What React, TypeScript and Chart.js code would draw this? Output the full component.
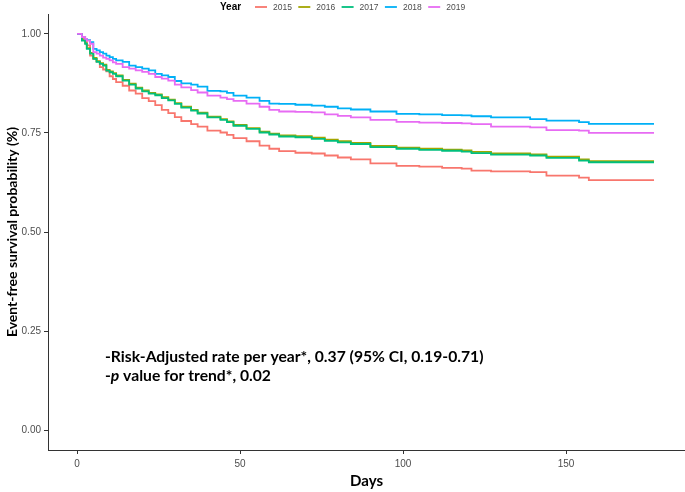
import React, { useEffect, useRef } from 'react';
import { Chart, registerables } from 'chart.js';

Chart.register(...registerables);

const days = [0, 1.5, 2.5, 3, 4, 5, 6, 7, 8, 9, 10, 11, 12, 14, 16, 18, 20, 22, 24, 26, 28, 30, 32, 35, 37, 40, 44, 46, 48, 52, 56, 59, 62, 67, 72, 76, 80, 84, 90, 98, 105, 112, 118, 121, 127, 139, 144, 154, 157, 177];

const years = ['2015', '2016', '2017', '2018', '2019'];
const colors = ['#F8766D', '#A3A500', '#00BF7D', '#00B0F6', '#E76BF3'];

const surv2015 = [1.0, 0.987, 0.98, 0.971, 0.945, 0.937, 0.93, 0.916, 0.91, 0.905, 0.893, 0.886, 0.878, 0.869, 0.857, 0.849, 0.838, 0.83, 0.82, 0.808, 0.8, 0.79, 0.78, 0.772, 0.766, 0.756, 0.751, 0.745, 0.737, 0.729, 0.718, 0.71, 0.704, 0.7, 0.698, 0.693, 0.688, 0.683, 0.673, 0.667, 0.665, 0.662, 0.66, 0.655, 0.653, 0.651, 0.642, 0.637, 0.631, 0.631];
const surv2016 = [1.0, 0.984, 0.976, 0.964, 0.952, 0.939, 0.931, 0.926, 0.922, 0.909, 0.905, 0.901, 0.895, 0.884, 0.874, 0.864, 0.857, 0.851, 0.847, 0.84, 0.834, 0.825, 0.816, 0.808, 0.801, 0.791, 0.785, 0.779, 0.77, 0.762, 0.753, 0.748, 0.744, 0.742, 0.738, 0.733, 0.729, 0.725, 0.717, 0.713, 0.71, 0.708, 0.706, 0.702, 0.698, 0.696, 0.69, 0.683, 0.679, 0.679];
const surv2017 = [1.0, 0.983, 0.975, 0.962, 0.95, 0.937, 0.929, 0.924, 0.92, 0.907, 0.903, 0.899, 0.893, 0.882, 0.872, 0.862, 0.855, 0.849, 0.845, 0.838, 0.832, 0.823, 0.814, 0.806, 0.799, 0.789, 0.783, 0.777, 0.768, 0.76, 0.751, 0.746, 0.741, 0.739, 0.735, 0.73, 0.726, 0.722, 0.714, 0.71, 0.707, 0.705, 0.703, 0.699, 0.695, 0.693, 0.687, 0.68, 0.676, 0.676];
const surv2018 = [1.0, 0.992, 0.987, 0.984, 0.979, 0.962, 0.958, 0.954, 0.95, 0.945, 0.941, 0.937, 0.933, 0.929, 0.92, 0.916, 0.912, 0.908, 0.899, 0.895, 0.891, 0.881, 0.875, 0.872, 0.867, 0.856, 0.855, 0.851, 0.844, 0.839, 0.831, 0.824, 0.823, 0.821, 0.819, 0.816, 0.812, 0.809, 0.804, 0.798, 0.797, 0.795, 0.794, 0.792, 0.789, 0.785, 0.781, 0.777, 0.773, 0.773];
const surv2019 = [1.0, 0.992, 0.987, 0.983, 0.975, 0.954, 0.95, 0.945, 0.94, 0.937, 0.933, 0.928, 0.924, 0.916, 0.912, 0.908, 0.904, 0.899, 0.891, 0.887, 0.882, 0.872, 0.865, 0.858, 0.852, 0.844, 0.839, 0.835, 0.831, 0.824, 0.816, 0.808, 0.804, 0.803, 0.802, 0.797, 0.793, 0.789, 0.783, 0.778, 0.776, 0.775, 0.774, 0.772, 0.766, 0.764, 0.757, 0.756, 0.75, 0.75];

const seriesValues = [surv2015, surv2016, surv2017, surv2018, surv2019];

const xTickValues = [0, 50, 100, 150];
const yTickValues = [0, 0.25, 0.5, 0.75, 1.0];

const xTitle = 'Days';
const yTitle = 'Event-free survival probability (%)';
const legendTitle = 'Year';
const noteLine1 = '-Risk-Adjusted rate per year*, 0.37 (95% CI, 0.19-0.71)';
const noteLine2Parts = ['-', 'p', ' value for trend*, 0.02'];

const TICK_FONT = '"Liberation Sans Narrow", "Liberation Sans", Arial, sans-serif';
const TITLE_FONT = 'Lato, "Open Sans", sans-serif';

const legendPlugin = {
  id: 'customLegend',
  afterDraw(chart: any) {
    const ctx = chart.ctx;
    ctx.save();
    ctx.textBaseline = 'middle';
    ctx.textAlign = 'left';
    ctx.font = 'bold 10px "Liberation Sans", Arial, sans-serif';
    ctx.fillStyle = '#000';
    ctx.fillText(legendTitle, 220, 7);
    years.forEach((y, i) => {
      const x0 = 255 + i * 43.3;
      ctx.strokeStyle = colors[i];
      ctx.lineWidth = 1.8;
      ctx.beginPath();
      ctx.moveTo(x0, 7);
      ctx.lineTo(x0 + 12, 7);
      ctx.stroke();
      ctx.font = '8.5px "Liberation Sans", Arial, sans-serif';
      ctx.fillStyle = '#4d4d4d';
      ctx.fillText(y, x0 + 18, 7.5);
    });
    ctx.restore();
  },
};

const notePlugin = {
  id: 'noteText',
  afterDraw(chart: any) {
    const ctx = chart.ctx;
    const left = chart.chartArea.left + 57;
    ctx.save();
    ctx.fillStyle = '#000';
    ctx.textBaseline = 'alphabetic';
    ctx.textAlign = 'left';
    ctx.font = `bold 15.7px ${TITLE_FONT}`;
    ctx.fillText(noteLine1, left, 362);
    let x = left;
    noteLine2Parts.forEach((part, i) => {
      ctx.font = i === 1 ? `italic bold 15.7px ${TITLE_FONT}` : `bold 15.7px ${TITLE_FONT}`;
      ctx.fillText(part, x, 381);
      x += ctx.measureText(part).width;
    });
    ctx.restore();
  },
};

export default function App() {
  const canvasRef = useRef<HTMLCanvasElement | null>(null);

  useEffect(() => {
    if (!canvasRef.current) return;
    const chart = new Chart(canvasRef.current, {
      type: 'line',
      data: {
        datasets: years.map((y, i) => ({
          label: y,
          data: days.map((d, j) => ({ x: d, y: seriesValues[i][j] })),
          borderColor: colors[i],
          backgroundColor: colors[i],
          borderWidth: 1.8,
          pointRadius: 0,
          stepped: true,
          fill: false,
          order: 4 - i,
        })),
      },
      options: {
        animation: false,
        responsive: false,
        devicePixelRatio: 1,
        layout: { padding: { top: 14, left: 0, right: 0, bottom: 0 } },
        plugins: {
          legend: { display: false },
          tooltip: { enabled: false },
        },
        scales: {
          x: {
            type: 'linear',
            min: -8.9,
            max: 186.5,
            afterBuildTicks: (scale: any) => {
              scale.ticks = xTickValues.map((v) => ({ value: v }));
            },
            afterFit: (scale: any) => {
              scale.height = 42;
            },
            ticks: {
              color: '#4d4d4d',
              font: { family: TICK_FONT, size: 10 },
              padding: 4,
              maxRotation: 0,
              callback: (v: any) => String(v),
            },
            grid: { drawOnChartArea: false, drawTicks: true, tickLength: 4, color: '#333', lineWidth: 1 },
            border: { display: true, color: '#333', width: 1 },
            title: {
              display: true,
              text: xTitle,
              color: '#000',
              font: { family: TITLE_FONT, size: 15, weight: 'bold' },
              padding: { top: 0, bottom: 2 },
            },
          },
          y: {
            type: 'linear',
            min: -0.05,
            max: 1.05,
            afterBuildTicks: (scale: any) => {
              scale.ticks = yTickValues.map((v) => ({ value: v }));
            },
            afterFit: (scale: any) => {
              scale.width = 48;
            },
            ticks: {
              color: '#4d4d4d',
              font: { family: TICK_FONT, size: 10 },
              padding: 3,
              callback: (v: any) => Number(v).toFixed(2),
            },
            grid: { drawOnChartArea: false, drawTicks: true, tickLength: 4, color: '#333', lineWidth: 1 },
            border: { display: true, color: '#333', width: 1 },
            title: {
              display: true,
              text: yTitle,
              color: '#000',
              font: { family: TITLE_FONT, size: 14, weight: 'bold' },
              padding: { top: 4, bottom: 0 },
            },
          },
        },
      },
      plugins: [legendPlugin, notePlugin],
    } as any);
    return () => chart.destroy();
  }, []);

  return (
    <div style={{ position: 'fixed', left: 0, top: 0, width: 685, height: 492, background: '#fff' }}>
      <canvas ref={canvasRef} width={685} height={492} />
    </div>
  );
}
